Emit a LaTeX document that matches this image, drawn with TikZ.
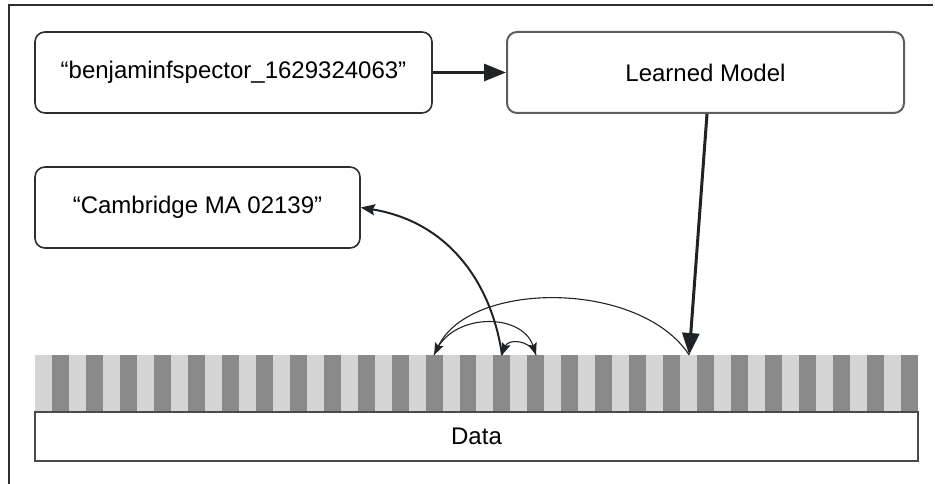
\documentclass[tikz,border=0pt]{standalone}
\usepackage{fontspec}
\setmainfont{Liberation Sans}
\usetikzlibrary{arrows.meta,calc}
\definecolor{lightstripe}{HTML}{D4D4D4}
\definecolor{darkstripe}{HTML}{8A8A8A}
\definecolor{edgedark}{HTML}{2E2E2E}
\definecolor{edgegrey}{HTML}{5E5E5E}
\definecolor{arrowcol}{HTML}{1F2326}
\begin{document}
\begin{tikzpicture}[x=1pt,y=-1pt,
  box/.style={draw=edgedark,line width=1.6pt,rounded corners=10pt,fill=white,
    font=\fontsize{24}{28}\selectfont,inner sep=0pt,anchor=center},
  bigarrow/.style={draw=arrowcol,line width=3pt,-{Triangle[length=22pt,width=17pt]}},
  thinarc/.style={draw=arrowcol,line width=1.1pt,-{Stealth[length=12pt,width=9pt,inset=2pt]}},
  midarrow/.style={draw=arrowcol,line width=2pt,-{Stealth[length=14pt,width=11pt,inset=2pt]}}
]
\useasboundingbox (0,0) rectangle (935,484);
% partial frame
\draw[edgedark,line width=1.5pt] (9,484) -- (9,5) -- (933,5);

% boxes
\node[box,minimum width=397pt,minimum height=81pt] (b1) at (233.5,72.5) {“benjaminfspector\_1629324063”};
\node[box,draw=edgegrey,line width=2pt,minimum width=397pt,minimum height=81pt] (lm) at (705.5,72.5) {Learned Model};
\node[box,minimum width=325pt,minimum height=81pt] (cam) at (197.5,207.5) {“Cambridge MA 02139”};

% stripes
\foreach \i in {0,...,51}{
  \pgfmathsetmacro{\xa}{35+16.98*\i}
  \pgfmathsetmacro{\xb}{35+16.98*(\i+1)}
  \ifodd\i
    \fill[darkstripe] (\xa,355) rectangle (\xb,411);
  \else
    \fill[lightstripe] (\xa,355) rectangle (\xb,411);
  \fi
}
\node[draw=edgegrey!80!black,line width=2pt,fill=white,minimum width=883pt,minimum height=49pt,
  inner sep=0pt,font=\fontsize{24}{28}\selectfont,anchor=center] (data) at (476.5,436.5) {Data};

\coordinate (c23) at (434.1,355);
\coordinate (c27) at (502.0,355);
\coordinate (c29) at (536.0,355);
\coordinate (c38) at (689.2,355);

% main arrows
\draw[bigarrow] (b1.east) -- (lm.west);
\draw[bigarrow] ($(lm.south)+(1.5,0)$) -- (c38);

% attention arcs
\draw[thinarc] (c38) .. controls (640,280) and (470,280) .. (c23);
\draw[thinarc] (c23) .. controls (450,312) and (522,312) .. (c29);
\draw[thinarc] (c29) .. controls (530,339) and (508,339) .. (c27);

% output arrow
\draw[midarrow] (c27) .. controls (492,285) and (450,222) .. (cam.east);
\end{tikzpicture}
\end{document}
